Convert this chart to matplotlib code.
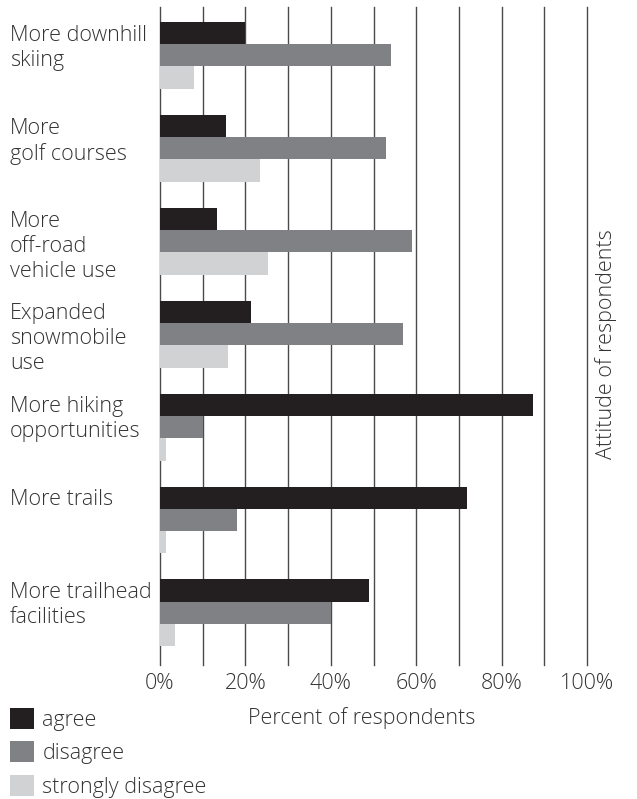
import matplotlib
matplotlib.use("Agg")
import matplotlib.pyplot as plt
from matplotlib.transforms import blended_transform_factory
import numpy as np

plt.rcParams['font.family'] = ['Open Sans', 'DejaVu Sans']

categories = ["More downhill\nskiing", "More\ngolf courses", "More\noff-road\nvehicle use",
              "Expanded\nsnowmobile\nuse", "More hiking\nopportunities", "More trails",
              "More trailhead\nfacilities"]
agree = [20, 15.5, 13.3, 21.2, 87.3, 72, 49]
disagree = [54, 53, 59, 57, 10, 18, 40]
strongly_disagree = [8, 23.4, 25.3, 16, 1.3, 1.3, 3.5]
series_names = ["agree", "disagree", "strongly disagree"]
tick_values = [0, 20, 40, 60, 80, 100]
tick_labels = ["0%", "20%", "40%", "60%", "80%", "100%"]

colors = ["#231f20", "#808184", "#d1d2d4"]
text_color = "#333333"
fs = 15.5
fw = 'light'

fig = plt.figure(figsize=(6.37, 7.99), dpi=100)
ax = fig.add_axes([160/637, 1-665/799, 427/637, (665-7)/799])

y = np.arange(len(categories))
h = 0.24
handles = []
for i, (vals, c) in enumerate(zip([agree, disagree, strongly_disagree], colors)):
    b = ax.barh(y + (i-1)*h, vals, height=h, color=c, zorder=3, label=series_names[i])
    handles.append(b)

for gx in range(0, 101, 10):
    ax.axvline(gx, color="#4a4a4a", lw=1.0, zorder=1, clip_on=False)

ax.set_xlim(0, 100)
ax.set_ylim(6.56, -0.52)
for s in ax.spines.values():
    s.set_visible(False)
ax.set_yticks([])
ax.set_xticks(tick_values)
ax.set_xticklabels(tick_labels, fontsize=fs, color=text_color, fontweight=fw)
ax.tick_params(axis='x', length=0, pad=6)
ax.set_xlabel("Percent of respondents", fontsize=fs, color=text_color, labelpad=9, fontweight=fw)
ax.xaxis.set_label_coords(0.473, -0.064)

tr = blended_transform_factory(fig.transFigure, ax.transData)
for i, cat in enumerate(categories):
    ax.text(10/637, i - 1.5*h + 0.03, cat, transform=tr, ha='left', va='top',
            fontsize=fs, color=text_color, linespacing=1.25, fontweight=fw)

fig.text(606/637, 1-344/799, "Attitude of respondents", rotation=90, ha='center', va='center',
         fontsize=fs, color=text_color, fontweight=fw)

leg = fig.legend(handles=handles, labels=series_names, loc='lower left', bbox_to_anchor=(-0.008, -0.017),
           frameon=False, handlelength=1.1, handleheight=1.1, handletextpad=0.4,
           labelspacing=0.5, borderaxespad=0.3, labelcolor=text_color, prop={'weight': fw, 'size': fs})

fig.savefig("out.png", dpi=100)
